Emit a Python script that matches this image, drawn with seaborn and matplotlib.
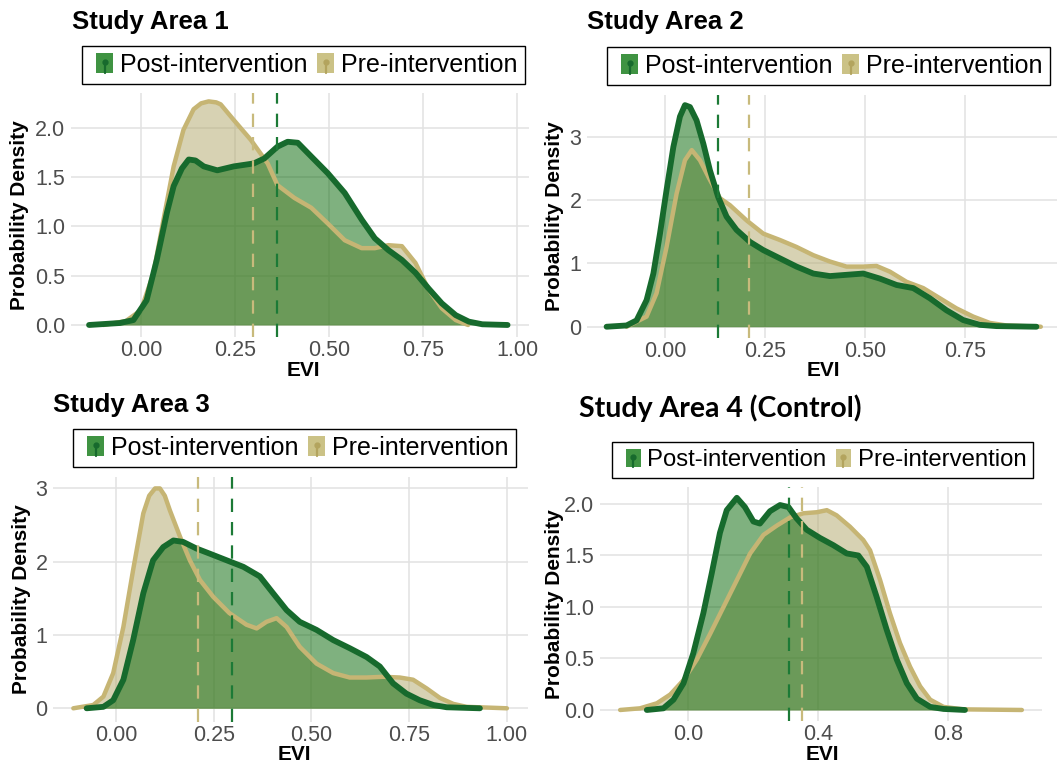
import numpy as np
import matplotlib
matplotlib.use("Agg")
import matplotlib.pyplot as plt
import seaborn as sns
from matplotlib.patches import Patch, Rectangle
from matplotlib.lines import Line2D
from matplotlib.legend_handler import HandlerBase

# ---- data (EVI vs density) ----
p1_post_x = [-0.138, -0.056, -0.02, 0.015, 0.042, 0.069, 0.087, 0.109, 0.127, 0.145, 0.167, 0.203, 0.247,
             0.30, 0.328, 0.363, 0.39, 0.417, 0.453, 0.497, 0.542, 0.587, 0.622, 0.658, 0.694, 0.73,
             0.765, 0.80, 0.837, 0.872, 0.908, 0.975]
p1_post_y = [0.0, 0.02, 0.05, 0.25, 0.66, 1.14, 1.41, 1.59, 1.68, 1.67, 1.61, 1.57, 1.61,
             1.64, 1.69, 1.81, 1.86, 1.85, 1.71, 1.54, 1.34, 1.07, 0.88, 0.76, 0.66, 0.53,
             0.37, 0.22, 0.10, 0.034, 0.007, 0.0]
p1_pre_x = [-0.1, -0.04, 0.0, 0.033, 0.06, 0.087, 0.113, 0.14, 0.16, 0.18, 0.2, 0.212, 0.247, 0.292,
            0.337, 0.363, 0.408, 0.453, 0.497, 0.542, 0.587, 0.622, 0.658, 0.694, 0.73, 0.765, 0.80,
            0.837, 0.87]
p1_pre_y = [0.0, 0.04, 0.15, 0.52, 1.07, 1.61, 1.98, 2.19, 2.25, 2.27, 2.26, 2.24, 2.08, 1.88,
            1.64, 1.42, 1.29, 1.19, 1.03, 0.86, 0.78, 0.78, 0.81, 0.80, 0.63, 0.36, 0.17,
            0.05, 0.0]
p1_means = {"post": 0.363, "pre": 0.299}

p2_post_x = [-0.146, -0.096, -0.071, -0.046, -0.029, -0.0125, 0.004, 0.021, 0.0375, 0.05, 0.0625, 0.079,
             0.096, 0.1125, 0.133, 0.154, 0.179, 0.2125, 0.246, 0.2875, 0.329, 0.371, 0.4125, 0.454,
             0.496, 0.5375, 0.579, 0.621, 0.6625, 0.704, 0.746, 0.7875, 0.829, 0.929]
p2_post_y = [0.0, 0.02, 0.1, 0.42, 0.84, 1.47, 2.16, 2.84, 3.32, 3.5, 3.47, 3.26,
             2.89, 2.47, 2.05, 1.74, 1.53, 1.34, 1.21, 1.08, 0.95, 0.84, 0.80, 0.82,
             0.84, 0.76, 0.66, 0.61, 0.45, 0.26, 0.105, 0.03, 0.01, 0.0]
p2_pre_x = [-0.096, -0.046, -0.021, 0.004, 0.029, 0.05, 0.067, 0.0875, 0.1125, 0.1375, 0.1625, 0.204,
            0.246, 0.2875, 0.329, 0.371, 0.4125, 0.454, 0.496, 0.529, 0.5625, 0.604, 0.646, 0.6875,
            0.729, 0.771, 0.8125, 0.854, 0.94]
p2_pre_y = [0.0, 0.16, 0.53, 1.26, 2.1, 2.63, 2.79, 2.63, 2.32, 2.03, 1.92, 1.68,
            1.47, 1.37, 1.26, 1.13, 1.03, 0.95, 0.95, 0.96, 0.87, 0.71, 0.61, 0.45,
            0.29, 0.16, 0.06, 0.02, 0.0]
p2_means = {"post": 0.133, "pre": 0.21}

p3_post_x = [-0.075, -0.032, -0.007, 0.019, 0.044, 0.07, 0.095, 0.121, 0.147, 0.172, 0.206, 0.24,
             0.283, 0.326, 0.368, 0.402, 0.4365, 0.47, 0.513, 0.556, 0.598, 0.641, 0.675, 0.709,
             0.743, 0.777, 0.812, 0.846, 0.931]
p3_post_y = [0.0, 0.02, 0.11, 0.39, 0.93, 1.57, 2.02, 2.2, 2.29, 2.27, 2.18, 2.11,
             2.02, 1.93, 1.8, 1.57, 1.34, 1.18, 1.07, 0.93, 0.82, 0.70, 0.57, 0.34,
             0.20, 0.11, 0.045, 0.014, 0.0]
p3_pre_x = [-0.109, -0.058, -0.032, -0.007, 0.019, 0.044, 0.07, 0.085, 0.1, 0.1125, 0.125, 0.138, 0.164,
            0.189, 0.215, 0.249, 0.29, 0.334, 0.36, 0.385, 0.411, 0.4365, 0.47, 0.513, 0.556, 0.598,
            0.641, 0.684, 0.726, 0.76, 0.795, 0.829, 0.863, 0.897, 1.0]
p3_pre_y = [0.0, 0.045, 0.16, 0.48, 1.11, 1.89, 2.66, 2.9, 3.0, 3.0, 2.9, 2.7, 2.34,
            2.02, 1.75, 1.52, 1.30, 1.14, 1.09, 1.18, 1.23, 1.11, 0.84, 0.61, 0.48, 0.42,
            0.42, 0.43, 0.42, 0.39, 0.27, 0.14, 0.06, 0.02, 0.0]
p3_means = {"post": 0.298, "pre": 0.209}

p4_post_x = [-0.128, -0.077, -0.046, -0.015, 0.015, 0.046, 0.072, 0.097, 0.118, 0.149, 0.174, 0.2,
             0.22, 0.251, 0.282, 0.308, 0.333, 0.364, 0.405, 0.446, 0.487, 0.523, 0.549, 0.579,
             0.61, 0.641, 0.672, 0.703, 0.744, 0.785, 0.851]
p4_post_y = [0.0, 0.016, 0.1, 0.26, 0.55, 0.94, 1.33, 1.72, 1.94, 2.06, 1.97, 1.83,
             1.81, 1.93, 1.99, 1.97, 1.86, 1.75, 1.67, 1.60, 1.52, 1.50, 1.39, 1.10,
             0.78, 0.49, 0.26, 0.11, 0.03, 0.01, 0.0]
p4_pre_x = [-0.21, -0.149, -0.097, -0.056, -0.015, 0.026, 0.067, 0.108, 0.149, 0.19, 0.231, 0.272,
            0.313, 0.354, 0.395, 0.426, 0.456, 0.497, 0.538, 0.559, 0.59, 0.62, 0.651, 0.682,
            0.713, 0.744, 0.785, 0.846, 1.026]
p4_pre_y = [0.0, 0.016, 0.065, 0.15, 0.29, 0.49, 0.74, 1.0, 1.26, 1.52, 1.70, 1.79,
            1.87, 1.91, 1.92, 1.94, 1.89, 1.78, 1.65, 1.55, 1.26, 0.94, 0.65, 0.42,
            0.23, 0.10, 0.03, 0.006, 0.0]
p4_means = {"post": 0.308, "pre": 0.349}

titles = ["Study Area 1", "Study Area 2", "Study Area 3", "Study Area 4 (Control)"]
legend_labels = ["Post-intervention", "Pre-intervention"]
p1_xticks = [0.0, 0.25, 0.5, 0.75, 1.0]
p1_yticks = [0.0, 0.5, 1.0, 1.5, 2.0]
p2_xticks = [0.0, 0.25, 0.5, 0.75]
p2_yticks = [0, 1, 2, 3]
p3_xticks = [0.0, 0.25, 0.5, 0.75, 1.0]
p3_yticks = [0, 1, 2, 3]
p4_xticks = [0.0, 0.4, 0.8]
p4_yticks = [0.0, 0.5, 1.0, 1.5, 2.0]

# ---- styling ----
POST_FILL, PRE_FILL = "#006400", "#b1a769"
POST_LINE, PRE_LINE = "#176a2d", "#c6b574"
POST_KEY, PRE_KEY = "#3f9342", "#cbc286"
GRID = "#e2e2e2"
TICK_C = "#4d4d4d"

sns.set_theme(style="whitegrid")
plt.rcParams["font.family"] = ["Liberation Sans", "DejaVu Sans"]
plt.rcParams["text.color"] = "black"
plt.rcParams["axes.labelcolor"] = "black"

W, H = 1057, 765
fig = plt.figure(figsize=(W / 100, H / 100), dpi=100)


def px_axes(l, t, r, b):
    return fig.add_axes([l / W, 1 - b / H, (r - l) / W, (b - t) / H])


class KeyHandler(HandlerBase):
    def __init__(self, frac):
        super().__init__()
        self.frac = frac

    def create_artists(self, legend, orig_handle, xdescent, ydescent, width, height, fontsize, trans):
        x0, y0 = -xdescent, -ydescent
        kw = width * self.frac
        kx = x0 + width - kw
        rect = Rectangle((kx, y0), kw, height, facecolor=orig_handle.get_facecolor(),
                         edgecolor="none", transform=trans)
        cx = kx + kw / 2
        stem = Line2D([cx, cx], [y0, y0 + height * 0.55], color=orig_handle.get_edgecolor(),
                      lw=1.6, transform=trans)
        dot = Line2D([cx], [y0 + height * 0.55], marker="o", ms=3.5, lw=0,
                     color=orig_handle.get_edgecolor(), transform=trans)
        return [rect, stem, dot]


panels = [
    dict(rect=(71, 93, 529, 337), xlim=(-0.186, 1.032), ylim=(-0.122, 2.355),
         post=(p1_post_x, p1_post_y), pre=(p1_pre_x, p1_pre_y), means=p1_means,
         xt=p1_xticks, yt=p1_yticks, xfmt="{:.2f}", yfmt="{:.1f}",
         title=(72, 10), leg=(82, 46), ylab=20, xlab=(303, 370), tfont="Liberation Sans",
         lfs=18, hl=0.96, hh=0.84, frac=0.7),
    dict(rect=(587, 95, 1060, 338), xlim=(-0.195, 0.988), ylim=(-0.178, 3.66),
         post=(p2_post_x, p2_post_y), pre=(p2_pre_x, p2_pre_y), means=p2_means,
         xt=p2_xticks, yt=p2_yticks, xfmt="{:.2f}", yfmt="{:.0f}",
         title=(587, 10), leg=(607, 47), ylab=555, xlab=(823, 370), tfont="Liberation Sans",
         lfs=18, hl=0.96, hh=0.84, frac=0.7),
    dict(rect=(53, 477, 528, 722), xlim=(-0.161, 1.054), ylim=(-0.187, 3.156),
         post=(p3_post_x, p3_post_y), pre=(p3_pre_x, p3_pre_y), means=p3_means,
         xt=p3_xticks, yt=p3_yticks, xfmt="{:.2f}", yfmt="{:.0f}",
         title=(53, 393), leg=(73, 429), ylab=22, xlab=(294, 755), tfont="Liberation Sans",
         lfs=18, hl=0.96, hh=0.84, frac=0.7),
    dict(rect=(600, 487, 1042, 721), xlim=(-0.272, 1.088), ylim=(-0.107, 2.165),
         post=(p4_post_x, p4_post_y), pre=(p4_pre_x, p4_pre_y), means=p4_means,
         xt=p4_xticks, yt=p4_yticks, xfmt="{:.1f}", yfmt="{:.1f}",
         title=(579, 394), leg=(612, 442), ylab=555, xlab=(822, 754), tfont="Lato",
         lfs=17.2, hl=0.92, hh=0.78, frac=0.68),
]

for title, p in zip(titles, panels):
    l, t, r, b = p["rect"]
    ax = px_axes(l, t, r, b)
    ax.set_facecolor("white")

    px, py = p["pre"]
    qx, qy = p["post"]
    ax.fill_between(px, py, color=PRE_FILL, alpha=0.5, lw=0, zorder=2)
    ax.fill_between(qx, qy, color=POST_FILL, alpha=0.5, lw=0, zorder=3)
    sns.lineplot(x=px, y=py, ax=ax, color=PRE_LINE, lw=3.2, zorder=4,
                 solid_joinstyle="round", solid_capstyle="round")
    sns.lineplot(x=qx, y=qy, ax=ax, color=POST_LINE, lw=4.2, zorder=5,
                 solid_joinstyle="round", solid_capstyle="round")
    ax.axvline(p["means"]["pre"], color="#c8ba7c", lw=1.6, ls=(0, (6, 4.5)), zorder=6)
    ax.axvline(p["means"]["post"], color="#1c7a36", lw=1.6, ls=(0, (6, 4.5)), zorder=6)

    ax.set_xlim(*p["xlim"])
    ax.set_ylim(*p["ylim"])
    ax.set_xticks(p["xt"])
    ax.set_xticklabels([p["xfmt"].format(v) for v in p["xt"]])
    ax.set_yticks(p["yt"])
    ax.set_yticklabels([p["yfmt"].format(v) for v in p["yt"]])
    ax.tick_params(length=0, labelsize=15.5, labelcolor=TICK_C)
    ax.tick_params(axis="x", pad=2.5)
    ax.tick_params(axis="y", pad=4)
    ax.grid(True, color=GRID, lw=1.1)
    ax.set_axisbelow(True)
    for s in ax.spines.values():
        s.set_visible(False)

    ax.set_xlabel("EVI", fontsize=15, fontweight="bold", color="black")
    ax.set_ylabel("Probability Density", fontsize=15, fontweight="bold", color="black")
    ax.yaxis.set_label_coords((p["ylab"] - l) / (r - l), 0.5)
    ax.xaxis.set_label_coords((p["xlab"][0] - l) / (r - l), (b - p["xlab"][1]) / (b - t))
    ax.xaxis.label.set_va("center")
    ax.yaxis.label.set_va("center")

    fig.text(p["title"][0] / W, 1 - p["title"][1] / H, title, ha="left", va="top",
             fontsize=18.5 if p["tfont"] != "Lato" else 20.5, fontweight="bold",
             color="black", family=[p["tfont"], "DejaVu Sans"])

    handles = [Patch(facecolor=POST_KEY, edgecolor=POST_LINE),
               Patch(facecolor=PRE_KEY, edgecolor="#b3a45e")]
    leg = ax.legend(handles, legend_labels, loc="upper left",
                    bbox_to_anchor=(p["leg"][0] / W, 1 - p["leg"][1] / H),
                    bbox_transform=fig.transFigure, ncol=2, frameon=True, fancybox=False,
                    framealpha=1, edgecolor="black", fontsize=p["lfs"], handlelength=p["hl"],
                    handleheight=p["hh"], handletextpad=0.28, columnspacing=0.1,
                    borderpad=0.28, borderaxespad=0,
                    handler_map={Patch: KeyHandler(p["frac"])})
    leg.get_frame().set_linewidth(1.0)

fig.savefig("out.png", dpi=100, facecolor="white")
